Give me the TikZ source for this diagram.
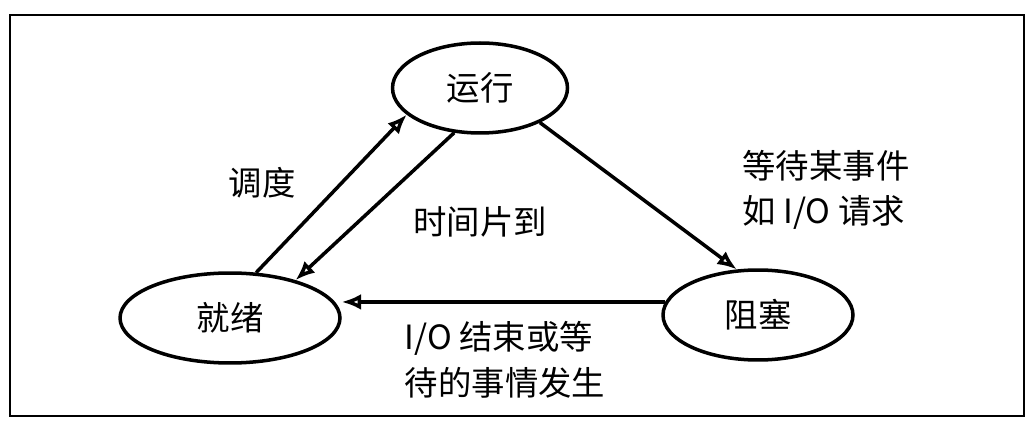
\documentclass[tikz,border=0pt]{standalone}
\usepackage{fontspec}
\setmainfont{Noto Sans CJK SC}
\usetikzlibrary{arrows.meta,shapes.geometric}
\tikzset{
  state/.style = {ellipse, draw, line width=2pt, minimum width=#1, minimum height=1.8cm, font=\fontsize{19}{22}\selectfont},
  trans/.style = {-{Latex[length=11pt,width=9pt,open]}, line width=2pt},
  lab/.style = {font=\fontsize{19}{26}\selectfont, align=left}
}
\begin{document}
\begin{tikzpicture}[x=0.02cm,y=-0.02cm]
\useasboundingbox (0,0) rectangle (1032,432);
\draw[line width=0.8pt] (10,15) rectangle (1024,416);
\node[state=3.5cm] (run) at (480,88) {运行};
\node[state=4.4cm] (ready) at (230,318) {就绪};
\node[state=3.8cm] (block) at (758,315) {阻塞};
% arrows
\draw[trans] (ready.60) -- (run.200);
\draw[trans] (run.240) -- (ready.30);
\draw[trans] (run.-30) -- (block.115);
\draw[trans] (block.172) -- (ready.0 |- block.172);
% labels
\node[lab] (l1) at (262,183) {调度};
\node[lab] (l2) at (480,222) {时间片到};
\node[lab] (l3) at (826,190) {等待某事件\\如 I/O 请求};
\node[lab] (l4) at (505,360) {I/O 结束或等\\待的事情发生};
\end{tikzpicture}
\end{document}
